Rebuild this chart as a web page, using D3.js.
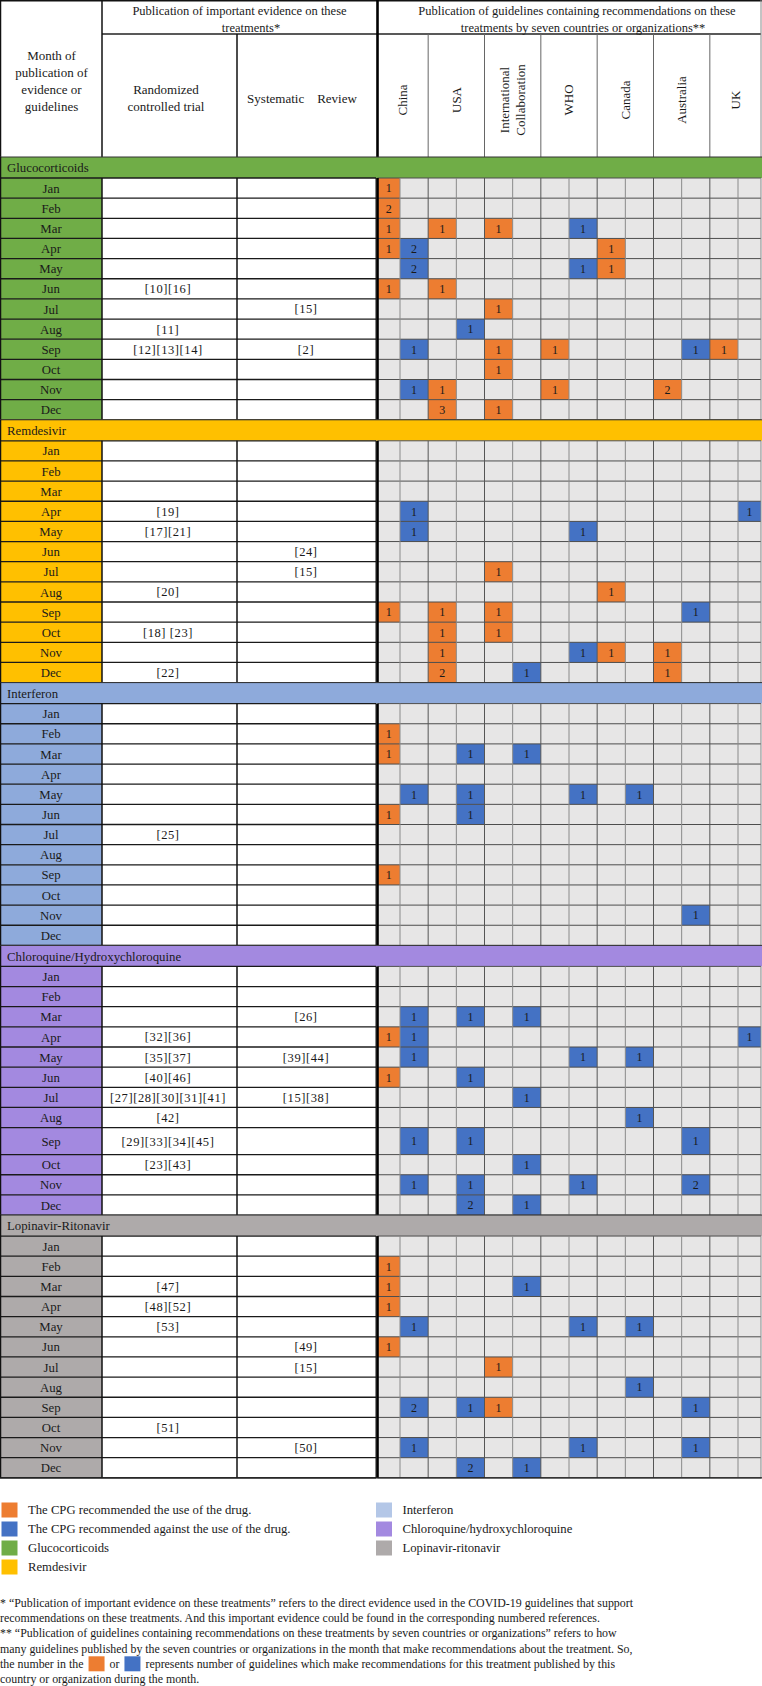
<!DOCTYPE html>
<html><head><meta charset="utf-8">
<script src="https://cdn.jsdelivr.net/npm/d3@7"></script>
<style>
body{margin:0;background:#fff}
svg{display:block}
text{font-family:"Liberation Serif","Times New Roman",serif;fill:#1a1a1a}
</style>
</head><body>
<svg id="c" width="762" height="1686"></svg>
<script>
// ---------------- DATA ----------------
const months = ["Jan","Feb","Mar","Apr","May","Jun","Jul","Aug","Sep","Oct","Nov","Dec"];
const countries = ["China","USA","International Collaboration","WHO","Canada","Australia","UK"];
const drugs = ["Glucocorticoids","Remdesivir","Interferon","Chloroquine/Hydroxychloroquine","Lopinavir-Ritonavir"];
const legendDrugNames = ["Glucocorticoids","Remdesivir","Interferon","Chloroquine/hydroxychloroquine","Lopinavir-ritonavir"];
const recTypes = ["for","against"];
const recLabels = ["The CPG recommended the use of the drug.","The CPG recommended against the use of the drug."];

// guidelines: [month, country, recommendation type, number of guidelines]
const glucocorticoidsGuidelines = [
 ["Jan","China","for",1],
 ["Feb","China","for",2],
 ["Mar","China","for",1],["Mar","USA","for",1],["Mar","International Collaboration","for",1],["Mar","WHO","against",1],
 ["Apr","China","for",1],["Apr","China","against",2],["Apr","Canada","for",1],
 ["May","China","against",2],["May","WHO","against",1],["May","Canada","for",1],
 ["Jun","China","for",1],["Jun","USA","for",1],
 ["Jul","International Collaboration","for",1],
 ["Aug","USA","against",1],
 ["Sep","China","against",1],["Sep","International Collaboration","for",1],["Sep","WHO","for",1],["Sep","Australia","against",1],["Sep","UK","for",1],
 ["Oct","International Collaboration","for",1],
 ["Nov","China","against",1],["Nov","USA","for",1],["Nov","WHO","for",1],["Nov","Australia","for",2],
 ["Dec","USA","for",3],["Dec","International Collaboration","for",1]
];
const remdesivirGuidelines = [
 ["Apr","China","against",1],["Apr","UK","against",1],
 ["May","China","against",1],["May","WHO","against",1],
 ["Jul","International Collaboration","for",1],
 ["Aug","Canada","for",1],
 ["Sep","China","for",1],["Sep","USA","for",1],["Sep","International Collaboration","for",1],["Sep","Australia","against",1],
 ["Oct","USA","for",1],["Oct","International Collaboration","for",1],
 ["Nov","USA","for",1],["Nov","WHO","against",1],["Nov","Canada","for",1],["Nov","Australia","for",1],
 ["Dec","USA","for",2],["Dec","International Collaboration","against",1],["Dec","Australia","for",1]
];
const interferonGuidelines = [
 ["Feb","China","for",1],
 ["Mar","China","for",1],["Mar","USA","against",1],["Mar","International Collaboration","against",1],
 ["May","China","against",1],["May","USA","against",1],["May","WHO","against",1],["May","Canada","against",1],
 ["Jun","China","for",1],["Jun","USA","against",1],
 ["Sep","China","for",1],
 ["Nov","Australia","against",1]
];
const chloroquineGuidelines = [
 ["Mar","China","against",1],["Mar","USA","against",1],["Mar","International Collaboration","against",1],
 ["Apr","China","for",1],["Apr","China","against",1],["Apr","UK","against",1],
 ["May","China","against",1],["May","WHO","against",1],["May","Canada","against",1],
 ["Jun","China","for",1],["Jun","USA","against",1],
 ["Jul","International Collaboration","against",1],
 ["Aug","Canada","against",1],
 ["Sep","China","against",1],["Sep","USA","against",1],["Sep","Australia","against",1],
 ["Oct","International Collaboration","against",1],
 ["Nov","China","against",1],["Nov","USA","against",1],["Nov","WHO","against",1],["Nov","Australia","against",2],
 ["Dec","USA","against",2],["Dec","International Collaboration","against",1]
];
const lopinavirGuidelines = [
 ["Feb","China","for",1],
 ["Mar","China","for",1],["Mar","International Collaboration","against",1],
 ["Apr","China","for",1],
 ["May","China","against",1],["May","WHO","against",1],["May","Canada","against",1],
 ["Jun","China","for",1],
 ["Jul","International Collaboration","for",1],
 ["Aug","Canada","against",1],
 ["Sep","China","against",2],["Sep","USA","against",1],["Sep","International Collaboration","for",1],["Sep","Australia","against",1],
 ["Nov","China","against",1],["Nov","WHO","against",1],["Nov","Australia","against",1],
 ["Dec","USA","against",2],["Dec","International Collaboration","against",1]
];

// evidence: [month, randomized controlled trial refs, systematic review refs]
const glucocorticoidsEvidence = [
 ["Jun","[10][16]",""],["Jul","","[15]"],["Aug","[11]",""],["Sep","[12][13][14]","[2]"]
];
const remdesivirEvidence = [
 ["Apr","[19]",""],["May","[17][21]",""],["Jun","","[24]"],["Jul","","[15]"],
 ["Aug","[20]",""],["Oct","[18] [23]",""],["Dec","[22]",""]
];
const interferonEvidence = [
 ["Jul","[25]",""]
];
const chloroquineEvidence = [
 ["Mar","","[26]"],["Apr","[32][36]",""],["May","[35][37]","[39][44]"],["Jun","[40][46]",""],
 ["Jul","[27][28][30][31][41]","[15][38]"],["Aug","[42]",""],["Sep","[29][33][34][45]",""],["Oct","[23][43]",""]
];
const lopinavirEvidence = [
 ["Mar","[47]",""],["Apr","[48][52]",""],["May","[53]",""],["Jun","","[49]"],
 ["Jul","","[15]"],["Oct","[51]",""],["Nov","","[50]"]
];

const guidelineData = [glucocorticoidsGuidelines, remdesivirGuidelines, interferonGuidelines, chloroquineGuidelines, lopinavirGuidelines];
const evidenceData = [glucocorticoidsEvidence, remdesivirEvidence, interferonEvidence, chloroquineEvidence, lopinavirEvidence];

const footnotes = [
 "* \u201cPublication of important evidence on these treatments\u201d refers to the direct evidence used in the COVID-19 guidelines that support",
 "recommendations on these treatments. And this important evidence could be found in the corresponding numbered references.",
 "** \u201cPublication of guidelines containing recommendations on these treatments by seven countries or organizations\u201d refers to how",
 "many guidelines published by the seven countries or organizations in the month that make recommendations about the treatment. So,"
];
const footnoteLast = ["the number in the","or","represents number of guidelines which make recommendations for this treatment published by this"];
const footnoteEnd = "country or organization during the month.";

// ---------------- STYLE / LAYOUT ----------------
const svg = d3.select("#c");
const W = 762;
const gridL = 377.5, gridR = 761;
const monthR = 102, rctR = 237, srR = 376;
const subX = d3.scaleLinear().domain([0,1,13,14]).range([gridL,400,738,gridR]);
const colorOf = d3.scaleOrdinal().domain(drugs).range(["#70AD47","#FFC000","#8EAADB","#A389E0","#AEAAAA"]);
const legendColor = d3.scaleOrdinal().domain(legendDrugNames).range(["#70AD47","#FFC000","#B4C7E7","#A389E0","#AEAAAA"]);
const recColor = d3.scaleOrdinal().domain(recTypes).range(["#ED7D31","#4472C4"]);
const subIndex = (c,t) => countries.indexOf(c)*2 + recTypes.indexOf(t);

const headerH = 157, bandH = 21, rowH = 20.15, tallRowH = 27;
const tallRows = [["Chloroquine/Hydroxychloroquine","Sep"]];

let cy = headerH;
const sections = drugs.map((d,i)=>{
  const band = cy; cy += bandH;
  const rowsTop = cy;
  const rows = months.map(m=>{
    const h = tallRows.some(t=>t[0]===d && t[1]===m) ? tallRowH : rowH;
    const r = {m, y:cy, h}; cy += h; return r;
  });
  return {drug:d, band, rowsTop, rows, bottom:cy, recs:guidelineData[i], ev:evidenceData[i]};
});
const tableBottom = cy;

function hline(g,x1,x2,y,stroke,w){ g.append("line").attr("x1",x1).attr("x2",x2).attr("y1",y).attr("y2",y).attr("stroke",stroke).attr("stroke-width",w); }
function vline(g,x,y1,y2,stroke,w){ g.append("line").attr("x1",x).attr("x2",x).attr("y1",y1).attr("y2",y2).attr("stroke",stroke).attr("stroke-width",w); }

// ---------------- HEADER ----------------
const hg = svg.append("g");
hg.append("rect").attr("x",0).attr("y",0).attr("width",W).attr("height",headerH).attr("fill","#fff");
const hfs = 12.5;
hg.append("text").attr("x",239.5).attr("y",14.5).attr("text-anchor","middle").attr("font-size",hfs).text("Publication of important evidence on these");
hg.append("text").attr("x",251).attr("y",31.5).attr("text-anchor","middle").attr("font-size",hfs).text("treatments*");
hg.append("text").attr("x",577).attr("y",14.5).attr("text-anchor","middle").attr("font-size",hfs).text("Publication of guidelines containing recommendations on these");
hg.append("text").attr("x",583).attr("y",31.5).attr("text-anchor","middle").attr("font-size",hfs).text("treatments by seven countries or organizations**");
["Month of","publication of","evidence or","guidelines"].forEach((t,i)=>{
  hg.append("text").attr("x",51.5).attr("y",59.5+i*17.2).attr("text-anchor","middle").attr("font-size",hfs+0.5).text(t);
});
["Randomized","controlled trial"].forEach((t,i)=>{
  hg.append("text").attr("x",166).attr("y",93.5+i*17.4).attr("text-anchor","middle").attr("font-size",hfs+0.5).text(t);
});
hg.append("text").attr("x",302).attr("y",102.5).attr("text-anchor","middle").attr("font-size",hfs+0.5).text("Systematic\u00a0\u00a0\u00a0\u00a0Review");
countries.forEach((c,i)=>{
  const cx = (subX(2*i)+subX(2*i+2))/2;
  const lines = c==="International Collaboration" ? ["International","Collaboration"] : [c];
  lines.forEach((t,j)=>{
    const dx = (j-(lines.length-1)/2)*16.5;
    hg.append("text").attr("transform",`translate(${cx+dx+4.3},100) rotate(-90)`)
      .attr("text-anchor","middle").attr("font-size",hfs+0.5).text(t);
  });
});
// header lines
hline(hg,0,W,0.75,"#111",1.5);
hline(hg,monthR,gridR,34,"#222",1.3);
vline(hg,0.6,0,headerH,"#111",1.3);
vline(hg,monthR,0,headerH,"#111",1.5);
vline(hg,rctR,34,headerH,"#111",1.5);
d3.range(1,7).forEach(i=>vline(hg,subX(2*i),34,headerH,"#666",1));
vline(hg,gridR,0,headerH,"#888",1);
vline(hg,gridL,0,headerH,"#000",2.6);

// ---------------- SECTIONS ----------------
sections.forEach(s=>{
  const g = svg.append("g");
  const rowOf = new Map(s.rows.map(r=>[r.m,r]));
  const col = colorOf(s.drug);
  // band
  g.append("rect").attr("x",0).attr("y",s.band).attr("width",W).attr("height",bandH).attr("fill",col);
  g.append("text").attr("x",7).attr("y",s.band+bandH/2).attr("dy","0.36em").attr("font-size",12.8).text(s.drug);
  // cells
  g.selectAll("rect.mc").data(s.rows).join("rect").attr("class","mc")
    .attr("x",0).attr("y",r=>r.y).attr("width",monthR).attr("height",r=>r.h).attr("fill",col);
  g.selectAll("rect.wc").data(s.rows).join("rect").attr("class","wc")
    .attr("x",monthR).attr("y",r=>r.y).attr("width",gridL-monthR).attr("height",r=>r.h).attr("fill","#fff");
  g.append("rect").attr("x",gridL).attr("y",s.rowsTop).attr("width",gridR-gridL).attr("height",s.bottom-s.rowsTop).attr("fill","#E7E6E6");
  g.selectAll("rect.rc").data(s.recs).join("rect").attr("class","rc")
    .attr("x",d=>subX(subIndex(d[1],d[2])))
    .attr("y",d=>rowOf.get(d[0]).y)
    .attr("width",d=>subX(subIndex(d[1],d[2])+1)-subX(subIndex(d[1],d[2])))
    .attr("height",d=>rowOf.get(d[0]).h)
    .attr("fill",d=>recColor(d[2]));
  // lines
  s.rows.forEach((r,i)=>{
    hline(g,0,srR,r.y,"#1a1a1a",1.3);
    hline(g,gridL,gridR,r.y,"#4d4d4d",1);
  });
  hline(g,0,srR,s.bottom,"#1a1a1a",1.3);
  hline(g,gridL,gridR,s.bottom,"#4d4d4d",1);
  hline(g,0,W,s.band,"#333",1);
  d3.range(1,14).forEach(k=>vline(g,subX(k),s.rowsTop,s.bottom, k%2===0?"#555":"#8a8a8a",1));
  vline(g,gridR,s.rowsTop,s.bottom,"#888",1);
  vline(g,0.6,s.band,s.bottom,"#111",1.3);
  vline(g,monthR,s.rowsTop,s.bottom,"#111",1.5);
  vline(g,rctR,s.rowsTop,s.bottom,"#111",1.5);
  vline(g,srR,s.rowsTop,s.bottom,"#111",1);
  vline(g,gridL,s.rowsTop,s.bottom,"#000",2.6);
  // texts
  g.selectAll("text.ml").data(s.rows).join("text").attr("class","ml")
    .attr("x",51).attr("y",r=>r.y+r.h/2).attr("dy","0.36em").attr("text-anchor","middle").attr("font-size",12.8).text(r=>r.m);
  g.selectAll("text.rct").data(s.ev.filter(e=>e[1])).join("text").attr("class","rct")
    .attr("x",168).attr("y",e=>rowOf.get(e[0]).y+rowOf.get(e[0]).h/2).attr("dy","0.36em")
    .attr("text-anchor","middle").attr("font-size",12.5).attr("letter-spacing",0.6).text(e=>e[1]);
  g.selectAll("text.sr").data(s.ev.filter(e=>e[2])).join("text").attr("class","sr")
    .attr("x",306).attr("y",e=>rowOf.get(e[0]).y+rowOf.get(e[0]).h/2).attr("dy","0.36em")
    .attr("text-anchor","middle").attr("font-size",12.5).attr("letter-spacing",0.6).text(e=>e[2]);
  g.selectAll("text.cnt").data(s.recs).join("text").attr("class","cnt")
    .attr("x",d=>(subX(subIndex(d[1],d[2]))+subX(subIndex(d[1],d[2])+1))/2)
    .attr("y",d=>rowOf.get(d[0]).y+rowOf.get(d[0]).h/2).attr("dy","0.36em")
    .attr("text-anchor","middle").attr("font-size",12).text(d=>d[3]);
});
svg.append("line").attr("x1",0).attr("x2",W).attr("y1",tableBottom).attr("y2",tableBottom).attr("stroke","#1a1a1a").attr("stroke-width",1.3);

// ---------------- LEGEND ----------------
const lg = svg.append("g");
const legendItems = [
  ...recTypes.map((t,i)=>({color:recColor(t),label:recLabels[i]})),
  ...legendDrugNames.map(n=>({color:legendColor(n),label:n}))
];
const legY = d3.scaleBand().domain(d3.range(4)).range([1500.5,1576.5]);
legendItems.forEach((it,i)=>{
  const colI = i<4?0:1, rowI = i<4?i:i-4;
  const x0 = colI===0?1.5:376;
  const yc = legY(rowI)+legY.bandwidth()/2;
  lg.append("rect").attr("x",x0).attr("y",yc-7.5).attr("width",16).attr("height",15).attr("fill",it.color);
  lg.append("text").attr("x",x0+26.5).attr("y",yc).attr("dy","0.34em").attr("font-size",12.7).text(it.label);
});

// ---------------- FOOTNOTES ----------------
const fg = svg.append("g");
const fy = d3.scaleLinear().domain([0,5]).range([1603,1679]);
const ffs = 11.9;
footnotes.forEach((t,i)=>{
  fg.append("text").attr("x",0).attr("y",fy(i)).attr("dy","0.34em").attr("font-size",ffs).text(t);
});
let fx = 0;
const t1 = fg.append("text").attr("x",fx).attr("y",fy(4)).attr("dy","0.34em").attr("font-size",ffs).text(footnoteLast[0]);
fx += t1.node().getComputedTextLength()+5;
fg.append("rect").attr("x",fx).attr("y",fy(4)-7.5).attr("width",16).attr("height",15).attr("fill",recColor("for"));
fx += 16+5;
const t2 = fg.append("text").attr("x",fx).attr("y",fy(4)).attr("dy","0.34em").attr("font-size",ffs).text(footnoteLast[1]);
fx += t2.node().getComputedTextLength()+5;
fg.append("rect").attr("x",fx).attr("y",fy(4)-7.5).attr("width",16).attr("height",15).attr("fill",recColor("against"));
fx += 16+5;
fg.append("text").attr("x",fx).attr("y",fy(4)).attr("dy","0.34em").attr("font-size",ffs).text(footnoteLast[2]);
fg.append("text").attr("x",0).attr("y",fy(5)).attr("dy","0.34em").attr("font-size",ffs).text(footnoteEnd);
</script>
</body></html>
